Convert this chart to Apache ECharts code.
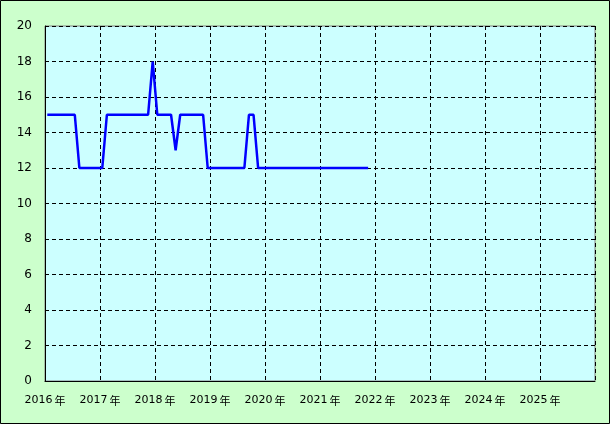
<!DOCTYPE html>
<html>
<head>
<meta charset="utf-8">
<script src="https://cdn.jsdelivr.net/npm/echarts@6/dist/echarts.min.js"></script>
<style>
html,body{margin:0;padding:0;background:#ccffcc;}
#c{width:610px;height:424px;}
</style>
</head>
<body>
<div id="c"></div>
<script>
// Data (monthly, starting 2016-01)
var startYear = 2016;
var values = [
  // 2016
  15,15,15,15,15,15,15,12,12,12,12,12,
  // 2017
  12,15,15,15,15,15,15,15,15,15,15,18,
  // 2018
  15,15,15,15,13,15,15,15,15,15,15,12,
  // 2019
  12,12,12,12,12,12,12,12,15,15,12,12,
  // 2020
  12,12,12,12,12,12,12,12,12,12,12,12,
  // 2021
  12,12,12,12,12,12,12,12,12,12,12
];
var yearLabels = ['2016年','2017年','2018年','2019年','2020年','2021年','2022年','2023年','2024年','2025年'];
var yTicks = [0,2,4,6,8,10,12,14,16,18,20];

// month index -> x (mid-month)
var seriesData = values.map(function(v, i){ return [i + 0.5, v]; });

var chart = echarts.init(document.getElementById('c'), null, {renderer:'canvas'});
var font = '"DejaVu Sans", Arial, sans-serif';
chart.setOption({
  backgroundColor: '#ccffcc',
  animation: false,
  grid: {
    left: 45, top: 26, right: 15, bottom: 43,
    show: true, backgroundColor: '#ccffff', borderColor: '#808080', borderWidth: 1
  },
  xAxis: {
    type: 'value', min: 0, max: 120, interval: 12,
    axisLine: {show: true, onZero: false, lineStyle: {color: '#000', width: 1}},
    axisTick: {show: false},
    splitLine: {show: true, lineStyle: {color: '#000', type: [4,3], width: 1}},
    axisLabel: {
      color: '#000', fontFamily: font, fontSize: 11, margin: 14,
      showMaxLabel: false,
      formatter: function(v){
        var s = yearLabels[Math.round(v/12)] || '';
        if (!s) return '';
        return '{a|' + s.slice(0, s.length-1) + '}{b|' + s.slice(s.length-1) + '}';
      },
      rich: {
        a: {color: '#000', fontFamily: font, fontSize: 11},
        b: {color: '#000', fontFamily: '"Noto Sans CJK JP", sans-serif', fontSize: 11, padding: [0,0,0,2]}
      }
    }
  },
  yAxis: {
    type: 'value', min: yTicks[0], max: yTicks[yTicks.length-1], interval: 2,
    axisLine: {show: true, lineStyle: {color: '#000', width: 1}},
    axisTick: {show: false},
    splitLine: {show: true, lineStyle: {color: '#000', type: [4,3], width: 1}},
    axisLabel: {color: '#000', fontFamily: font, fontSize: 12, margin: 13}
  },
  graphic: [{
    type: 'rect', silent: true, z: 100,
    shape: {x: 0.5, y: 0.5, width: 609, height: 423},
    style: {fill: 'none', stroke: '#000', lineWidth: 1}
  }],
  series: [{
    type: 'line', data: seriesData, showSymbol: false, symbol: 'none',
    lineStyle: {color: '#0000ff', width: 2.5},
    itemStyle: {color: '#0000ff'}
  }]
});
</script>
</body>
</html>
